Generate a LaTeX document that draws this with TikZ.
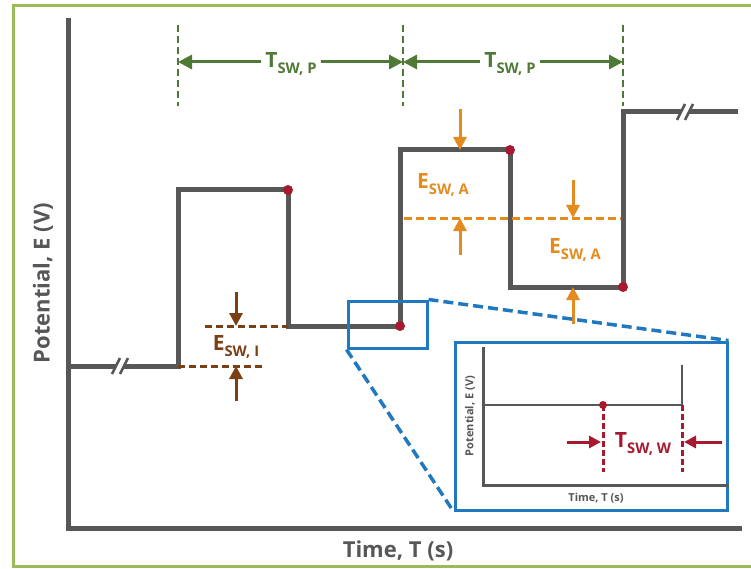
\documentclass[tikz,border=0pt]{standalone}
\usepackage{fontspec}
\setmainfont{Open Sans}
\usepackage{tikz}
\usetikzlibrary{arrows.meta,positioning}
\definecolor{wavegray}{HTML}{575757}
\definecolor{framegreen}{HTML}{9BBB59}
\definecolor{pergreen}{HTML}{4F7A35}
\definecolor{incbrown}{HTML}{7B3F14}
\definecolor{amporange}{HTML}{E38B1F}
\definecolor{zoomblue}{HTML}{2079C0}
\definecolor{waitred}{HTML}{A6192E}
\newcommand{\swsub}[2]{#1\raisebox{-0.32em}{\scalebox{0.7}{#2}}}

\begin{document}
\begin{tikzpicture}[x=1pt,y=-1pt,
  font=\bfseries,
  ax/.style={draw=wavegray,line width=5pt},
  wave/.style={draw=wavegray,line width=5pt,line join=miter},
  brk/.style={draw=wavegray,line width=2.5pt},
  dot/.style={circle,fill=waitred,inner sep=0pt,minimum size=10pt},
  axlab/.style={text=wavegray,font=\fontsize{22}{26}\selectfont\bfseries},
  perdash/.style={draw=pergreen,line width=2.5pt,dash pattern=on 7pt off 4pt},
  perar/.style={-{Triangle[length=14pt,width=14pt]},draw=pergreen,fill=pergreen,line width=3pt},
  perlab/.style={text=pergreen,inner sep=4pt,font=\fontsize{21}{24}\selectfont\bfseries},
  incdash/.style={draw=incbrown,line width=3pt,dash pattern=on 7pt off 4pt},
  incar/.style={-{Triangle[length=13pt,width=13pt]},draw=incbrown,fill=incbrown,line width=3pt},
  inclab/.style={text=incbrown,font=\fontsize{21}{24}\selectfont\bfseries},
  ampdash/.style={draw=amporange,line width=3pt,dash pattern=on 8pt off 4pt},
  ampar/.style={-{Triangle[length=13pt,width=13pt]},draw=amporange,fill=amporange,line width=3pt},
  amplab/.style={text=amporange,font=\fontsize{21}{24}\selectfont\bfseries},
  zoombox/.style={draw=zoomblue,line width=3pt},
  zoomdash/.style={draw=zoomblue,line width=3.5pt,dash pattern=on 10pt off 5pt},
  inax/.style={draw=wavegray,line width=3pt},
  inwave/.style={draw=wavegray,line width=2.5pt},
  inlab/.style={text=wavegray,font=\fontsize{11}{13}\selectfont\bfseries},
  waitdash/.style={draw=waitred,line width=3pt,dash pattern=on 6pt off 3pt},
  waitar/.style={-{Triangle[length=12pt,width=12pt]},draw=waitred,fill=waitred,line width=3pt},
  waitlab/.style={text=waitred,font=\fontsize{21}{24}\selectfont\bfseries}]

\useasboundingbox (0,0) rectangle (751,569);
\draw[framegreen,line width=3pt] (760,6) -- (13,6) -- (13,566) -- (760,566);

% axes
\coordinate (origin) at (68,528);
\draw[ax] (68,18) -- (origin) -- (742,528);
\node[axlab,rotate=90] (ylab) at (43,283) {Potential, E (V)};
\node[axlab] (xlab) at (398,551) {Time, T (s)};

% staircase waveform
\coordinate (w0) at (68,366);
\coordinate (w1) at (178,366);  \coordinate (w2) at (178,190);
\coordinate (w3) at (288,190);  \coordinate (w4) at (288,326);
\coordinate (w5) at (400,326);  \coordinate (w6) at (400,150);
\coordinate (w7) at (510,150);  \coordinate (w8) at (510,287);
\coordinate (w9) at (623,287);  \coordinate (w10) at (623,112);
\coordinate (wend) at (738,112);
\draw[wave] (w0) -- (116,366);
\draw[wave] (124,366) -- (w1) -- (w2) -- (w3) -- (w4) -- (w5) -- (w6)
   -- (w7) -- (w8) -- (w9) -- (w10) -- (681,112);
\draw[wave] (689,112) -- (wend);
\foreach \x in {112,120} \draw[brk] (\x,374) -- (\x+8,358);
\foreach \x in {677,685} \draw[brk] (\x,120) -- (\x+8,104);
\foreach \p in {w3,w5,w7,w9} \node[dot] at (\p) {};

% pulse period
\coordinate (pl1) at (178,62); \coordinate (pl2) at (403,62); \coordinate (pl3) at (623,62);
\foreach \x in {178,403,623} \draw[perdash] (\x,25) -- (\x,106);
\node[perlab] (tp1) at (291,64) {\swsub{T}{SW, P}};
\node[perlab] (tp2) at (510,64) {\swsub{T}{SW, P}};
\draw[perar] (tp1.west |- pl1) -- (pl1);
\draw[perar] (tp1.east |- pl1) -- (pl2);
\draw[perar] (tp2.west |- pl2) -- (pl2);
\draw[perar] (tp2.east |- pl3) -- (pl3);

% step increment
\draw[incdash] (205,326) -- (w4);
\draw[incdash] (w1) -- (265,366);
\coordinate (ia) at (236,292); \coordinate (ib) at (236,326);
\coordinate (ic) at (236,401); \coordinate (id) at (236,366);
\draw[incar] (ia) -- (ib);
\draw[incar] (ic) -- (id);
\node[inclab] (ei) at (236,347) {\swsub{E}{SW, I}};

% pulse amplitude
\draw[ampdash] (404,218) -- (621,218);
\coordinate (aa) at (460,109); \coordinate (ab) at (460,150);
\coordinate (ac) at (460,255); \coordinate (ad) at (460,218);
\coordinate (ae) at (573,180); \coordinate (af) at (573,218);
\coordinate (ag) at (573,324); \coordinate (ah) at (573,287);
\draw[ampar] (aa) -- (ab);
\draw[ampar] (ac) -- (ad);
\draw[ampar] (ae) -- (af);
\draw[ampar] (ag) -- (ah);
\node[amplab] (ea1) at (443,185) {\swsub{E}{SW, A}};
\node[amplab] (ea2) at (575,250) {\swsub{E}{SW, A}};

% zoom onto the sampling window
\node[zoombox,minimum width=79pt,minimum height=47pt,inner sep=0pt] (zsmall) at (387.5,324.5) {};
\node[zoombox,fill=white,minimum width=272pt,minimum height=168pt,inner sep=0pt] (zbig) at (591,426) {};
\draw[zoomdash] (zsmall.north east) -- (zbig.north east);
\draw[zoomdash] (zsmall.south west) -- (zbig.south west);

% inset
\draw[inax] (483,347) -- (483,485) -- (zbig.east |- 483,485);
\coordinate (s1) at (483,405); \coordinate (s2) at (682,405); \coordinate (s3) at (682,365);
\draw[inwave] (s1) -- (s2) -- (s3);
\coordinate (sw) at (603,405);
\node[dot,minimum size=8pt] at (sw) {};
\draw[waitdash] (sw) -- (603,472);
\draw[waitdash] (s2) -- (682,472);
\coordinate (ra) at (567,442); \coordinate (rb) at (601,442);
\coordinate (rc) at (722,442); \coordinate (rd) at (684,442);
\draw[waitar] (ra) -- (rb);
\draw[waitar] (rc) -- (rd);
\node[waitlab] (tw) at (643,444) {\swsub{T}{SW, W}};
\node[inlab,rotate=90] (iylab) at (470,416) {Potential, E (V)};
\node[inlab] (ixlab) at (596,498) {Time, T (s)};
\end{tikzpicture}
\end{document}
